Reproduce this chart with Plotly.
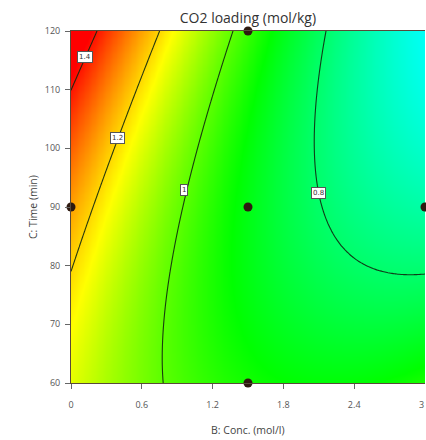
import numpy as np
import plotly.graph_objects as go

# Quadratic response-surface model for CO2 loading in coded factors
# u = (B - 1.5) / 1.5, v = (C - 90) / 30
# terms: 1, u, v, u*v, u^2, v^2
model_terms = ["1", "u", "v", "u*v", "u^2", "v^2"]
model_coefs = [0.8897, -0.2597, 0.0183, -0.1594, 0.1082, 0.0557]

# Factor ranges
conc_range = [0.0, 3.0]      # B: Conc. (mol/l)
time_range = [60.0, 120.0]   # C: Time (min)

# Contour levels and where their labels sit
contour_levels = [0.8, 1.0, 1.2, 1.4]
label_conc = [2.10, 0.96, 0.39, 0.12]
label_time = [92.4, 92.9, 101.7, 115.6]

# Design points
design_conc = [1.5, 1.5, 1.5, 0.0, 3.0]
design_time = [120, 90, 60, 90, 90]

# Axis ticks
x_ticks = [0, 0.6, 1.2, 1.8, 2.4, 3]
x_ticktext = ["0", "0.6", "1.2", "1.8", "2.4", "3"]
y_ticks = [60, 70, 80, 90, 100, 110, 120]


def predict(b, c):
    u = (b - 1.5) / 1.5
    v = (c - 90.0) / 30.0
    basis = [np.ones_like(u), u, v, u * v, u * u, v * v]
    return sum(k * t for k, t in zip(model_coefs, basis))


conc = np.linspace(conc_range[0], conc_range[1], 151)
time = np.linspace(time_range[0], time_range[1], 151)
CB, CT = np.meshgrid(conc, time)
loading = predict(CB, CT)

# cyan -> green -> yellow -> red, linear in response
zlo, zhi = 0.645, 1.42
def frac(z):
    return (z - zlo) / (zhi - zlo)

colorscale = [
    [0.0, "rgb(0,255,255)"],
    [frac(0.91), "rgb(0,255,0)"],
    [frac(1.16), "rgb(255,255,0)"],
    [1.0, "rgb(255,0,0)"],
]

fig = go.Figure()
fig.add_trace(go.Contour(
    x=conc, y=time, z=loading,
    zmin=zlo, zmax=zhi, colorscale=colorscale, showscale=False,
    contours=dict(start=contour_levels[0], end=contour_levels[-1],
                  size=contour_levels[1] - contour_levels[0],
                  coloring="heatmap"),
    line=dict(color="rgba(15,40,15,0.9)", width=1.1),
    hoverinfo="skip",
))

fig.add_trace(go.Scatter(
    x=design_conc, y=design_time, mode="markers",
    marker=dict(size=9, color="#2e1a10"),
    cliponaxis=False, hoverinfo="skip",
))

for lvl, bx, cy in zip(contour_levels, label_conc, label_time):
    fig.add_annotation(
        x=bx, y=cy, text=f"{lvl:g}", showarrow=False,
        font=dict(size=7, color="#333", family="DejaVu Sans"),
        bgcolor="white", bordercolor="#555", borderwidth=1, borderpad=1,
    )

# last x tick label sits against the right edge of the figure
fig.add_annotation(
    x=x_ticks[-1], xref="x", yref="paper", y=0, yshift=-21, xshift=1,
    text=x_ticktext[-1], showarrow=False,
    font=dict(size=9, color="#555", family="Open Sans"),
    xanchor="right", yanchor="middle",
)

fig.add_annotation(
    xref="paper", yref="paper", x=0.5, y=0, yshift=-47,
    text="B: Conc. (mol/l)", showarrow=False,
    font=dict(size=10.5, color="#444", family="Open Sans"),
    xanchor="center", yanchor="middle",
)
fig.add_annotation(
    xref="paper", yref="paper", x=0, y=0.5, xshift=-38,
    text="C: Time (min)", showarrow=False, textangle=-90,
    font=dict(size=10.5, color="#444", family="Open Sans"),
    xanchor="center", yanchor="middle",
)

fig.update_layout(
    width=426, height=440,
    margin=dict(l=71, r=1, t=31, b=57),
    paper_bgcolor="white", plot_bgcolor="white",
    showlegend=False,
    title=dict(text="CO2 loading (mol/kg)", x=0.582, xanchor="center",
               y=0.958, yanchor="middle",
               font=dict(size=14, color="#333", family="Open Sans")),
    font=dict(family="Open Sans", color="#555"),
)
fig.update_xaxes(
    range=conc_range, tickvals=x_ticks[:-1], ticktext=x_ticktext[:-1],
    ticks="outside", ticklen=5, tickcolor="#666", ticklabelstandoff=8,
    tickfont=dict(size=9, color="#555"),
    showgrid=False, zeroline=False, showline=True, linecolor="#5a4a3a",
    linewidth=1, mirror=True,
)
fig.update_yaxes(
    range=time_range, tickvals=y_ticks,
    ticks="outside", ticklen=5, tickcolor="#666", ticklabelstandoff=3,
    tickfont=dict(size=9, color="#555"),
    showgrid=False, zeroline=False, showline=True, linecolor="#5a4a3a",
    linewidth=1,
)

fig.write_html("out.html")
